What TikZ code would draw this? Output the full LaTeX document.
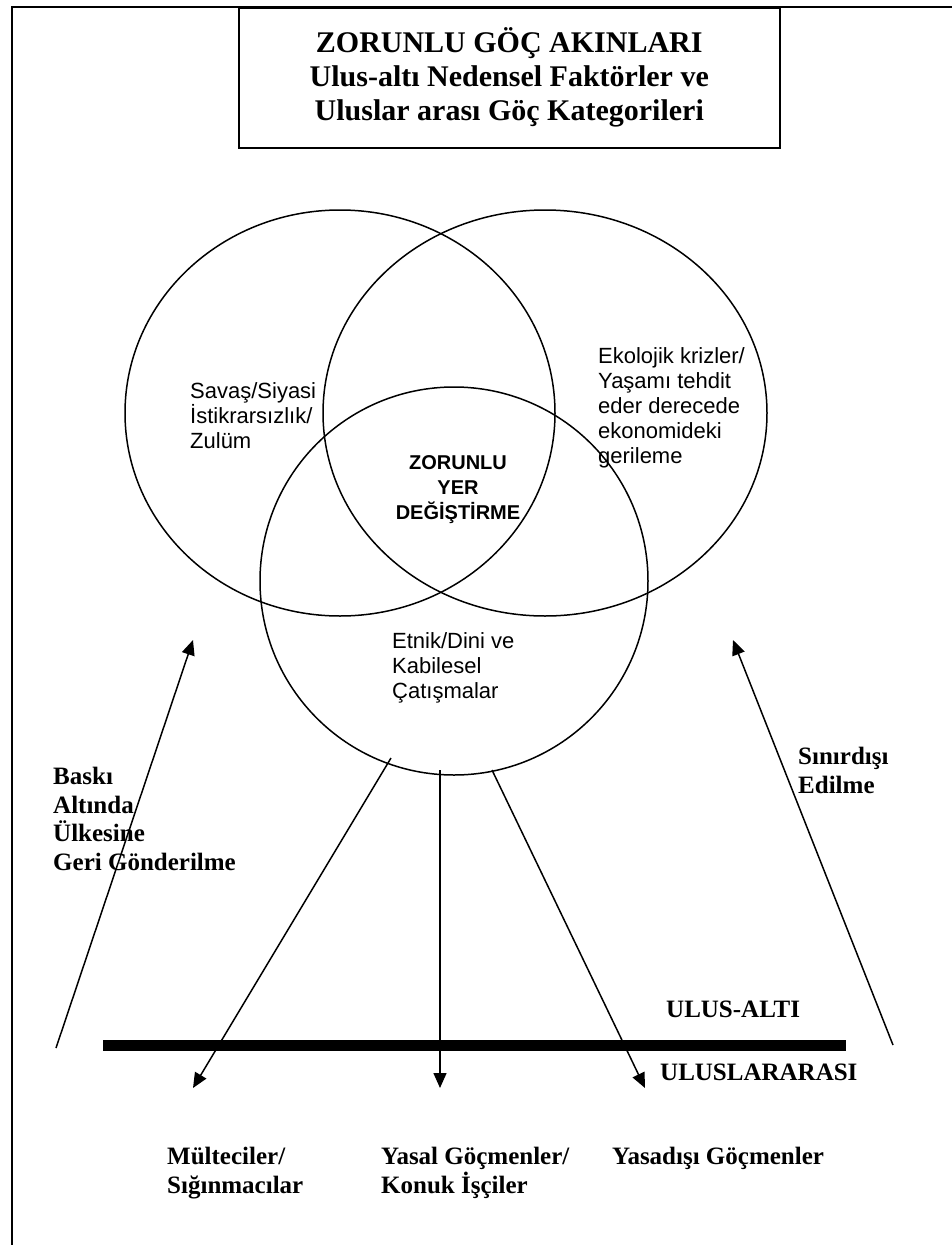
\documentclass[tikz,border=0pt]{standalone}
\usepackage{fontspec}
\setmainfont{Liberation Serif}
\setsansfont{Liberation Sans}
\usetikzlibrary{arrows.meta,shapes.geometric,positioning}

\begin{document}
\begin{tikzpicture}[
  x=1pt, y=-1pt,
  ring/.style={ellipse, draw, line width=1.5pt, inner sep=0pt},
  boldlbl/.style={font=\fontsize{25}{28.5}\selectfont\bfseries, align=left,
    inner sep=0pt, anchor=north west},
  sanslbl/.style={font=\sffamily\fontsize{22}{25}\selectfont, align=left,
    inner sep=0pt, anchor=north west},
  arr/.style={-{Triangle[length=15pt,width=13pt]}, line width=1.5pt}
]
\useasboundingbox (0,0) rectangle (951,1245);
% outer frame
\draw[line width=2.2pt] (12,1260) -- (12,7) -- (965,7);
% title box
\node[draw, line width=1.5pt, anchor=north west, minimum width=541pt,
  minimum height=140pt, align=center,
  font=\fontsize{30}{34}\selectfont\bfseries] (title) at (238,7)
  {ZORUNLU GÖÇ AKINLARI\\Ulus-altı Nedensel Faktörler ve\\Uluslar arası Göç Kategorileri};

% three circles
\node[ring, minimum width=430pt, minimum height=406pt] (savas) at (340,413) {};
\node[ring, minimum width=444pt, minimum height=406pt] (eko) at (545,413) {};
\node[ring, minimum width=388pt, minimum height=388pt] (etnik) at (454,581) {};

\node[sanslbl] (savastxt) at (190,382) {Savaş/Siyasi\\İstikrarsızlık/\\Zulüm};
\node[sanslbl] (ekotxt) at (598,347) {Ekolojik krizler/\\Yaşamı tehdit\\eder derecede\\ekonomideki\\gerileme};
\node[sanslbl] (etniktxt) at (392,632) {Etnik/Dini ve\\Kabilesel\\Çatışmalar};
\node[font=\sffamily\bfseries\fontsize{20}{25}\selectfont, align=center,
  inner sep=0pt] (zorunlu) at (458,490) {ZORUNLU\\YER\\DEĞİŞTİRME};

% level line
\coordinate (barL) at (103,1045);
\coordinate (barR) at (846,1045);
\draw[line width=11pt] (barL) -- (barR);
\node[boldlbl] (ulusalti) at (666,1001) {ULUS-ALTI};
\node[boldlbl] (uluslar) at (660,1064) {ULUSLARARASI};

% return flows
\coordinate (baskiS) at (56,1048);
\coordinate (baskiE) at (193,640);
\coordinate (sinirS) at (893,1045);
\coordinate (sinirE) at (733,640);
\draw[arr] (baskiS) -- (baskiE);
\draw[arr] (sinirS) -- (sinirE);
\node[boldlbl] (baski) at (53,767) {Baskı\\Altında\\Ülkesine\\Geri Gönderilme};
\node[boldlbl] (sinir) at (798,747) {Sınırdışı\\Edilme};

% outflows
\coordinate (outA) at (391,758);
\coordinate (outB) at (440,770);
\coordinate (outC) at (492,770);
\coordinate (inA) at (193,1088);
\coordinate (inB) at (440,1088);
\coordinate (inC) at (645,1088);
\draw[arr] (outA) -- (inA);
\draw[arr] (outB) -- (inB);
\draw[arr] (outC) -- (inC);

\node[boldlbl] (multeci) at (167,1147) {Mülteciler/\\Sığınmacılar};
\node[boldlbl] (yasal) at (381,1147) {Yasal Göçmenler/\\Konuk İşçiler};
\node[boldlbl] (yasadisi) at (612,1147) {Yasadışı Göçmenler};
\end{tikzpicture}
\end{document}
